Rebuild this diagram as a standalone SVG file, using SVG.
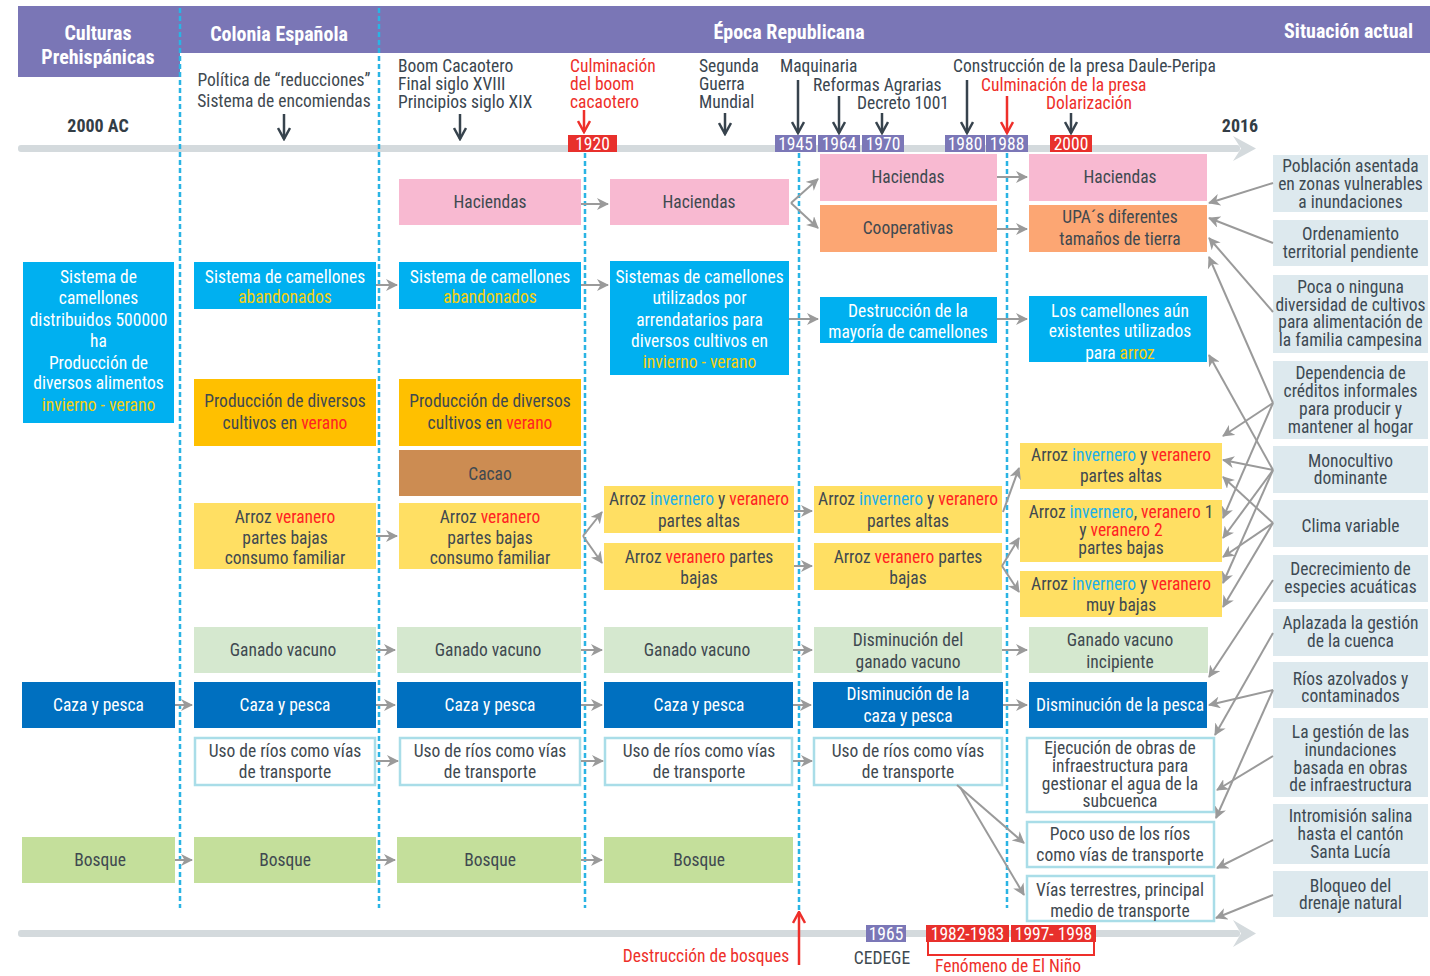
<svg xmlns="http://www.w3.org/2000/svg" width="1430" height="976" viewBox="0 0 1430 976">
<defs>
<style>
text{font-family:'Roboto Condensed',Roboto,'Liberation Sans',sans-serif;font-size:17.5px;fill:#3f4950;text-anchor:middle}
.hd{font-weight:bold;font-size:20px;fill:#fff}
.bd{font-weight:bold;font-size:18px;fill:#333d45}
.lt{text-anchor:start;fill:#3a4650}
.red{fill:#ee2f2a}
.w{fill:#fff}
.yl{fill:#f6cf10}
.rr{fill:#ff2222}
.cy{fill:#1cb0ea}
.yr{fill:#fff;font-size:17.5px}
.rt{fill:#3d4953}
.pink{fill:#f8b9d1}.orng{fill:#fca673}.blue{fill:#00b0f0}.gold{fill:#ffc000}.brown{fill:#cc8c52}.yel{fill:#ffdf63}.grn{fill:#d5e8cf}.navy{fill:#0070c0}.wht{fill:#fff;stroke:#a9dde8;stroke-width:2.5}.bos{fill:#c4df9b}.rbox{fill:#dde9ee}
.dash{stroke:#2ab4e4;stroke-width:2.5;stroke-dasharray:5 3;fill:none}
.c{stroke:#9a9a9a;stroke-width:2;fill:none;marker-end:url(#ag)}
.da{stroke:#37434d;stroke-width:2.5;fill:none;marker-end:url(#ad)}
.ra{stroke:#ee2f2a;stroke-width:2.5;fill:none;marker-end:url(#ar)}
</style>
<marker id="ag" viewBox="0 0 12 12" refX="11" refY="6" markerWidth="12" markerHeight="12" markerUnits="userSpaceOnUse" orient="auto"><path d="M0,0 L12,6 L0,12 L3.5,6 z" fill="#9a9a9a"/></marker>
<marker id="ad" viewBox="0 0 14 14" refX="12.5" refY="7" markerWidth="14" markerHeight="14" markerUnits="userSpaceOnUse" orient="auto"><path d="M1.5,1 L12.5,7 L1.5,13" fill="none" stroke="#37434d" stroke-width="2.5"/></marker>
<marker id="ar" viewBox="0 0 14 14" refX="12.5" refY="7" markerWidth="14" markerHeight="14" markerUnits="userSpaceOnUse" orient="auto"><path d="M1.5,1 L12.5,7 L1.5,13" fill="none" stroke="#ee2f2a" stroke-width="2.5"/></marker>
</defs>
<rect width="1430" height="976" fill="#fff"/>

<g id="header">
<rect x="18" y="6" width="1412" height="47" fill="#7a76b6"/>
<rect x="18" y="6" width="162" height="71" fill="#7a76b6"/>
<text class="hd" x="98" y="40">Culturas</text>
<text class="hd" x="98" y="64">Prehispánicas</text>
<text class="hd" x="279" y="41">Colonia Española</text>
<text class="hd" x="789" y="39">Época Republicana</text>
<text class="hd" x="1413" y="38" style="text-anchor:end">Situación actual</text>
</g>

<g id="timeline-top">
<rect x="18" y="145" width="1222" height="7" rx="3" fill="#d4dadd"/>
<polygon points="1233,136 1256,148.5 1233,161 1241,148.5" fill="#d4dadd"/>
<text class="bd" x="98" y="132">2000 AC</text>
<text class="bd" x="1240" y="132">2016</text>
<text x="284" y="86">Política de “reducciones”</text>
<text x="284" y="107">Sistema de encomiendas</text>
<text class="lt" x="398" y="72">Boom Cacaotero</text>
<text class="lt" x="398" y="90">Final siglo XVIII</text>
<text class="lt" x="398" y="108">Principios siglo XIX</text>
<text class="lt red" x="570" y="72">Culminación</text>
<text class="lt red" x="570" y="90">del boom</text>
<text class="lt red" x="570" y="108">cacaotero</text>
<text class="lt" x="699" y="72">Segunda</text>
<text class="lt" x="699" y="90">Guerra</text>
<text class="lt" x="699" y="108">Mundial</text>
<text class="lt" x="780" y="72">Maquinaria</text>
<text class="lt" x="813" y="91">Reformas Agrarias</text>
<text class="lt" x="857" y="109">Decreto 1001</text>
<text class="lt" x="953" y="72">Construcción de la presa Daule-Peripa</text>
<text class="lt red" x="981" y="91">Culminación de la presa</text>
<text class="lt red" x="1046" y="109">Dolarización</text>
<path class="da" d="M284,114 V139"/>
<path class="da" d="M460,114 V139"/>
<path class="ra" d="M584,110 V132"/>
<path class="da" d="M725,113 V134"/>
<path class="da" d="M798,80 V133"/>
<path class="da" d="M839,96 V133"/>
<path class="da" d="M882,113 V133"/>
<path class="da" d="M967,80 V133"/>
<path class="ra" d="M1007,96 V133"/>
<path class="da" d="M1071,113 V133"/>
<rect x="568" y="135" width="49" height="17" fill="#e8302c"/><text class="yr" x="592.5" y="150">1920</text>
<rect x="775" y="135" width="41" height="17" fill="#7b77b7"/><text class="yr" x="795.5" y="150">1945</text>
<rect x="818" y="135" width="42" height="17" fill="#7b77b7"/><text class="yr" x="839" y="150">1964</text>
<rect x="862" y="135" width="42" height="17" fill="#7b77b7"/><text class="yr" x="883" y="150">1970</text>
<rect x="945" y="135" width="40" height="17" fill="#7b77b7"/><text class="yr" x="965" y="150">1980</text>
<rect x="986" y="135" width="42" height="17" fill="#7b77b7"/><text class="yr" x="1007" y="150">1988</text>
<rect x="1050" y="135" width="42" height="17" fill="#e8302c"/><text class="yr" x="1071" y="150">2000</text>
</g>

<g id="dividers">
<path class="dash" d="M180,8 V908"/>
<path class="dash" d="M379,8 V908"/>
<path class="dash" d="M585,153 V908"/>
<path class="dash" d="M799,153 V912"/>
<path class="dash" d="M1007,153 V908"/>
</g>

<g id="timeline-bottom">
<rect x="18" y="930" width="1222" height="7" rx="3" fill="#d4dadd"/>
<polygon points="1233,920 1256,933.5 1233,947 1241,933.5" fill="#d4dadd"/>
<rect x="866" y="925" width="40" height="17" fill="#7b77b7"/><text class="yr" x="886" y="940">1965</text>
<rect x="926" y="925" width="83" height="17" fill="#e8302c"/><text class="yr" x="967.5" y="940">1982-1983</text>
<rect x="1011" y="925" width="85" height="17" fill="#e8302c"/><text class="yr" x="1053.5" y="940">1997- 1998</text>
<path d="M928,942 V955 H1094 V942" fill="none" stroke="#ee2f2a" stroke-width="2"/>
<text x="882" y="964">CEDEGE</text>
<text class="red" x="1008" y="972">Fenómeno de El Niño</text>
<text class="red" x="706" y="962">Destrucción de bosques</text>
<path class="ra" d="M799,965 V912"/>
</g>

<g id="pre-camellones"><rect class="blue" x="23" y="262" width="151" height="161"/>
<text class="w" x="98.5" y="283">Sistema de</text><text class="w" x="98.5" y="304">camellones</text><text class="w" x="98.5" y="326">distribuidos 500000</text><text class="w" x="98.5" y="347">ha</text><text class="w" x="98.5" y="369">Producción  de</text><text class="w" x="98.5" y="389">diversos alimentos</text><text class="yl" x="98.5" y="411">invierno - verano</text></g>
<g id="pre-caza"><rect class="navy" x="22" y="682" width="153" height="46"/><text class="w" x="98.5" y="711">Caza y pesca</text></g>
<g id="pre-bosque"><rect class="bos" x="22" y="837" width="153" height="46"/><text x="100" y="866">Bosque</text></g>

<g id="col-camellones"><rect class="blue" x="194" y="262" width="182" height="47"/><text class="w" x="285" y="283">Sistema de camellones</text><text class="yl" x="285" y="303">abandonados</text></g>
<g id="col-produccion"><rect class="gold" x="194" y="379" width="182" height="67"/><text x="285" y="407">Producción de  diversos</text><text x="285" y="429">cultivos en <tspan class="rr">verano</tspan></text></g>
<g id="col-arroz"><rect class="yel" x="194" y="503" width="182" height="66"/><text x="285" y="523">Arroz <tspan class="rr">veranero</tspan></text><text x="285" y="544">partes bajas</text><text x="285" y="564">consumo familiar</text></g>
<g id="col-ganado"><rect class="grn" x="194" y="627" width="182" height="46"/><text x="283" y="656">Ganado vacuno</text></g>
<g id="col-caza"><rect class="navy" x="194" y="682" width="182" height="46"/><text class="w" x="285" y="711">Caza y pesca</text></g>
<g id="col-rios"><rect class="wht" x="195" y="738" width="180" height="47"/><text x="285" y="757">Uso de ríos como vías</text><text x="285" y="778">de transporte</text></g>
<g id="col-bosque"><rect class="bos" x="194" y="837" width="182" height="46"/><text x="285" y="866">Bosque</text></g>

<g id="boom-haciendas"><rect class="pink" x="399" y="179" width="182" height="46"/><text x="490" y="208">Haciendas</text></g>
<g id="boom-camellones"><rect class="blue" x="399" y="262" width="182" height="47"/><text class="w" x="490" y="283">Sistema de camellones</text><text class="yl" x="490" y="303">abandonados</text></g>
<g id="boom-produccion"><rect class="gold" x="399" y="379" width="182" height="67"/><text x="490" y="407">Producción de  diversos</text><text x="490" y="429">cultivos en <tspan class="rr">verano</tspan></text></g>
<g id="boom-cacao"><rect class="brown" x="399" y="450" width="182" height="46"/><text x="490" y="480">Cacao</text></g>
<g id="boom-arroz"><rect class="yel" x="399" y="503" width="182" height="66"/><text x="490" y="523">Arroz <tspan class="rr">veranero</tspan></text><text x="490" y="544">partes bajas</text><text x="490" y="564">consumo familiar</text></g>
<g id="boom-ganado"><rect class="grn" x="397" y="627" width="184" height="46"/><text x="488" y="656">Ganado vacuno</text></g>
<g id="boom-caza"><rect class="navy" x="397" y="682" width="184" height="46"/><text class="w" x="490" y="711">Caza y pesca</text></g>
<g id="boom-rios"><rect class="wht" x="400" y="738" width="180" height="47"/><text x="490" y="757">Uso de ríos como vías</text><text x="490" y="778">de transporte</text></g>
<g id="boom-bosque"><rect class="bos" x="397" y="837" width="184" height="46"/><text x="490" y="866">Bosque</text></g>

<g id="g1920-haciendas"><rect class="pink" x="610" y="179" width="179" height="46"/><text x="699" y="208">Haciendas</text></g>
<g id="g1920-camellones"><rect class="blue" x="610" y="261" width="179" height="114"/><text class="w" x="699.5" y="283">Sistemas de camellones</text><text class="w" x="699.5" y="304">utilizados por</text><text class="w" x="699.5" y="326">arrendatarios para</text><text class="w" x="699.5" y="347">diversos cultivos en</text><text class="yl" x="699.5" y="368">invierno - verano</text></g>
<g id="g1920-altas"><rect class="yel" x="604" y="486" width="190" height="47"/><text x="699" y="505">Arroz <tspan class="cy">invernero</tspan> y <tspan class="rr">veranero</tspan></text><text x="699" y="527">partes altas</text></g>
<g id="g1920-bajas"><rect class="yel" x="604" y="543" width="190" height="47"/><text x="699" y="563">Arroz <tspan class="rr">veranero</tspan> partes</text><text x="699" y="584">bajas</text></g>
<g id="g1920-ganado"><rect class="grn" x="604" y="627" width="189" height="46"/><text x="697" y="656">Ganado vacuno</text></g>
<g id="g1920-caza"><rect class="navy" x="604" y="682" width="189" height="46"/><text class="w" x="699" y="711">Caza y pesca</text></g>
<g id="g1920-rios"><rect class="wht" x="605" y="738" width="187" height="47"/><text x="699" y="757">Uso de ríos como vías</text><text x="699" y="778">de transporte</text></g>
<g id="g1920-bosque"><rect class="bos" x="604" y="837" width="189" height="46"/><text x="699" y="866">Bosque</text></g>

<g id="r45-haciendas"><rect class="pink" x="820" y="154" width="177" height="47"/><text x="908" y="183">Haciendas</text></g>
<g id="r45-cooperativas"><rect class="orng" x="820" y="205" width="177" height="47"/><text x="908" y="234">Cooperativas</text></g>
<g id="r45-destruccion"><rect class="blue" x="820" y="297" width="177" height="46"/><text class="w" x="908" y="317">Destrucción de la</text><text class="w" x="908" y="338">mayoría de camellones</text></g>
<g id="r45-altas"><rect class="yel" x="814" y="486" width="188" height="47"/><text x="908" y="505">Arroz <tspan class="cy">invernero</tspan> y <tspan class="rr">veranero</tspan></text><text x="908" y="527">partes altas</text></g>
<g id="r45-bajas"><rect class="yel" x="814" y="543" width="188" height="47"/><text x="908" y="563">Arroz <tspan class="rr">veranero</tspan> partes</text><text x="908" y="584">bajas</text></g>
<g id="r45-ganado"><rect class="grn" x="814" y="627" width="188" height="46"/><text x="908" y="646">Disminución del</text><text x="908" y="668">ganado vacuno</text></g>
<g id="r45-caza"><rect class="navy" x="813" y="682" width="190" height="46"/><text class="w" x="908" y="700">Disminución de la</text><text class="w" x="908" y="722">caza y pesca</text></g>
<g id="r45-rios"><rect class="wht" x="814" y="738" width="188" height="47"/><text x="908" y="757">Uso de ríos como vías</text><text x="908" y="778">de transporte</text></g>

<g id="r88-haciendas"><rect class="pink" x="1029" y="154" width="178" height="47"/><text x="1120" y="183">Haciendas</text></g>
<g id="r88-upa"><rect class="orng" x="1029" y="205" width="178" height="47"/><text x="1120" y="223">UPA´s diferentes</text><text x="1120" y="245">tamaños de tierra</text></g>
<g id="r88-camellones"><rect class="blue" x="1029" y="296" width="178" height="66"/><text class="w" x="1120" y="317">Los camellones aún</text><text class="w" x="1120" y="337">existentes utilizados</text><text class="w" x="1120" y="359">para <tspan class="yl">arroz</tspan></text></g>
<g id="r88-altas"><rect class="yel" x="1020" y="443" width="202" height="46"/><text x="1121" y="461">Arroz <tspan class="cy">invernero</tspan> y <tspan class="rr">veranero</tspan></text><text x="1121" y="482">partes altas</text></g>
<g id="r88-bajas"><rect class="yel" x="1020" y="500" width="202" height="62"/><text x="1121" y="518">Arroz <tspan class="cy">invernero</tspan>, <tspan class="rr">veranero</tspan> 1</text><text x="1121" y="536">y <tspan class="rr">veranero 2</tspan></text><text x="1121" y="554">partes bajas</text></g>
<g id="r88-muybajas"><rect class="yel" x="1020" y="571" width="202" height="46"/><text x="1121" y="590">Arroz <tspan class="cy">invernero</tspan> y <tspan class="rr">veranero</tspan></text><text x="1121" y="611">muy bajas</text></g>
<g id="r88-ganado"><rect class="grn" x="1029" y="627" width="179" height="46"/><text x="1120" y="646">Ganado vacuno</text><text x="1120" y="668">incipiente</text></g>
<g id="r88-pesca"><rect class="navy" x="1029" y="682" width="178" height="46"/><text class="w" x="1120" y="711">Disminución de la pesca</text></g>
<g id="r88-obras"><rect class="wht" x="1027" y="738" width="187" height="74"/><text x="1120" y="754">Ejecución de obras de</text><text x="1120" y="772">infraestructura para</text><text x="1120" y="790">gestionar el agua de la</text><text x="1120" y="807">subcuenca</text></g>
<g id="r88-pocouso"><rect class="wht" x="1027" y="822" width="187" height="45"/><text x="1120" y="840">Poco uso de los ríos</text><text x="1120" y="861">como vías  de transporte</text></g>
<g id="r88-vias"><rect class="wht" x="1027" y="876" width="187" height="45"/><text x="1120" y="896">Vías terrestres, principal</text><text x="1120" y="917">medio de transporte</text></g>

<g id="s-poblacion"><rect class="rbox" x="1273" y="155" width="155" height="57"/><text class="rt" x="1350.5" y="172">Población asentada</text><text class="rt" x="1350.5" y="190">en zonas vulnerables</text><text class="rt" x="1350.5" y="208">a inundaciones</text></g>
<g id="s-ordenamiento"><rect class="rbox" x="1273" y="220" width="155" height="46"/><text class="rt" x="1350.5" y="240">Ordenamiento</text><text class="rt" x="1350.5" y="258">territorial pendiente</text></g>
<g id="s-diversidad"><rect class="rbox" x="1273" y="275" width="155" height="78"/><text class="rt" x="1350.5" y="293">Poca o ninguna</text><text class="rt" x="1350.5" y="311">diversidad de cultivos</text><text class="rt" x="1350.5" y="328">para alimentación de</text><text class="rt" x="1350.5" y="346">la familia campesina</text></g>
<g id="s-creditos"><rect class="rbox" x="1273" y="361" width="155" height="78"/><text class="rt" x="1350.5" y="379">Dependencia de</text><text class="rt" x="1350.5" y="397">créditos informales</text><text class="rt" x="1350.5" y="415">para producir y</text><text class="rt" x="1350.5" y="433">mantener al hogar</text></g>
<g id="s-monocultivo"><rect class="rbox" x="1273" y="446" width="155" height="47"/><text class="rt" x="1350.5" y="467">Monocultivo</text><text class="rt" x="1350.5" y="484">dominante</text></g>
<g id="s-clima"><rect class="rbox" x="1273" y="500" width="155" height="47"/><text class="rt" x="1350.5" y="532">Clima variable</text></g>
<g id="s-especies"><rect class="rbox" x="1273" y="555" width="155" height="47"/><text class="rt" x="1350.5" y="575">Decrecimiento de</text><text class="rt" x="1350.5" y="593">especies acuáticas</text></g>
<g id="s-cuenca"><rect class="rbox" x="1273" y="609" width="155" height="47"/><text class="rt" x="1350.5" y="629">Aplazada la gestión</text><text class="rt" x="1350.5" y="647">de la cuenca</text></g>
<g id="s-rios"><rect class="rbox" x="1273" y="662" width="155" height="46"/><text class="rt" x="1350.5" y="685">Ríos azolvados y</text><text class="rt" x="1350.5" y="702">contaminados</text></g>
<g id="s-inundaciones"><rect class="rbox" x="1273" y="718" width="155" height="79"/><text class="rt" x="1350.5" y="738">La gestión de las</text><text class="rt" x="1350.5" y="756">inundaciones</text><text class="rt" x="1350.5" y="774">basada en obras</text><text class="rt" x="1350.5" y="791">de infraestructura</text></g>
<g id="s-salina"><rect class="rbox" x="1273" y="804" width="155" height="60"/><text class="rt" x="1350.5" y="822">Intromisión salina</text><text class="rt" x="1350.5" y="840">hasta el cantón</text><text class="rt" x="1350.5" y="858">Santa Lucía</text></g>
<g id="s-drenaje"><rect class="rbox" x="1273" y="871" width="155" height="46"/><text class="rt" x="1350.5" y="892">Bloqueo del</text><text class="rt" x="1350.5" y="909">drenaje natural</text></g>

<g id="connectors">
<path class="c" d="M175,705 H192"/>
<path class="c" d="M175,860 H192"/>
<path class="c" d="M376,285 H397"/>
<path class="c" d="M376,536 H397"/>
<path class="c" d="M376,650 H395"/>
<path class="c" d="M376,705 H395"/>
<path class="c" d="M376,761 H398"/>
<path class="c" d="M376,860 H395"/>
<path class="c" d="M581,204 H608"/>
<path class="c" d="M581,285 H608"/>
<path class="c" d="M583,536 L602,512"/>
<path class="c" d="M583,536 L602,563"/>
<path class="c" d="M581,650 H602"/>
<path class="c" d="M581,705 H602"/>
<path class="c" d="M581,761 H603"/>
<path class="c" d="M581,860 H602"/>
<path class="c" d="M791,203 L818,179"/>
<path class="c" d="M791,203 L818,228"/>
<path class="c" d="M789,319 H818"/>
<path class="c" d="M794,511 H812"/>
<path class="c" d="M794,566 H812"/>
<path class="c" d="M793,650 H812"/>
<path class="c" d="M793,705 H811"/>
<path class="c" d="M793,761 H812"/>
<path class="c" d="M997,177 H1027"/>
<path class="c" d="M997,229 H1027"/>
<path class="c" d="M997,319 H1027"/>
<path class="c" d="M1003,512 L1019,468"/>
<path class="c" d="M1002,566 L1019,538"/>
<path class="c" d="M1002,566 L1019,592"/>
<path class="c" d="M1002,650 H1027"/>
<path class="c" d="M1003,705 H1027"/>
<path class="c" d="M957,785 L1024,843"/>
<path class="c" d="M960,787 L1024,895"/>
<path class="c" d="M1273,183 L1209,203"/>
<path class="c" d="M1273,243 L1209,218"/>
<path class="c" d="M1273,312 L1209,238"/>
<path class="c" d="M1273,403 L1209,257"/>
<path class="c" d="M1273,403 L1223,436"/>
<path class="c" d="M1273,403 L1223,518"/>
<path class="c" d="M1273,470 L1209,355"/>
<path class="c" d="M1273,470 L1223,460"/>
<path class="c" d="M1273,470 L1223,538"/>
<path class="c" d="M1273,470 L1223,583"/>
<path class="c" d="M1273,523 L1223,477"/>
<path class="c" d="M1273,523 L1223,557"/>
<path class="c" d="M1273,523 L1223,607"/>
<path class="c" d="M1273,580 L1209,677"/>
<path class="c" d="M1273,633 L1215,735"/>
<path class="c" d="M1273,690 L1209,705"/>
<path class="c" d="M1273,690 L1216,818"/>
<path class="c" d="M1273,756 L1217,790"/>
<path class="c" d="M1273,840 L1217,868"/>
<path class="c" d="M1273,895 L1216,918"/>
</g>
</svg>
